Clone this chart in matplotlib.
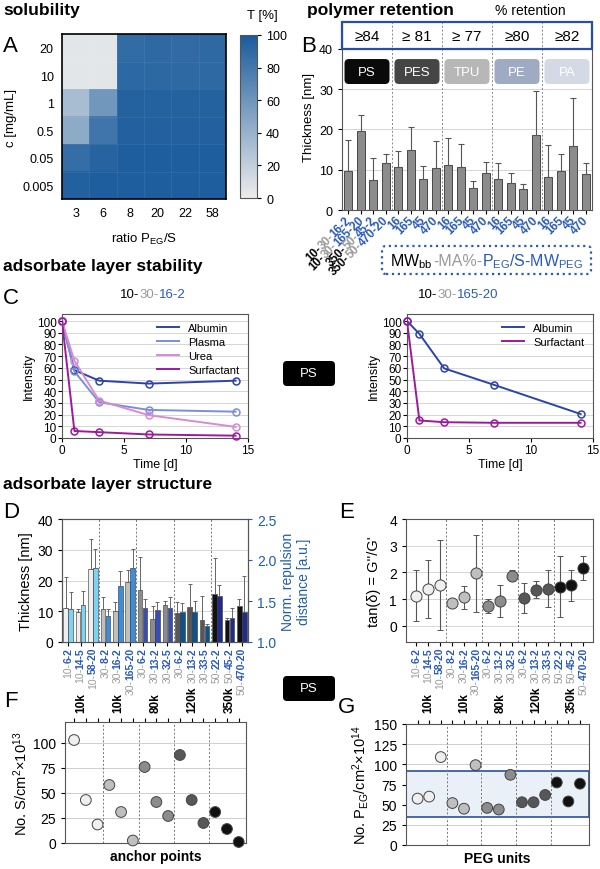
import numpy as np
import matplotlib
matplotlib.use('Agg')
import matplotlib.pyplot as plt
from matplotlib.colors import LinearSegmentedColormap
from matplotlib.patches import FancyBboxPatch, Rectangle
from matplotlib.transforms import IdentityTransform

# ---------------- data ----------------
ratio_labels = ['3', '6', '8', '20', '22', '58']
conc_labels = ['20', '10', '1', '0.5', '0.05', '0.005']
transmission = [[4, 4, 88, 90, 89, 90],
                [4, 4, 91, 91, 90, 90],
                [32, 58, 95, 95, 95, 95],
                [45, 82, 96, 96, 96, 96],
                [87, 94, 97, 97, 97, 97],
                [96, 97, 97, 97, 97, 97]]

polymers = ['PS', 'PES', 'TPU', 'PE', 'PA']
retention = ['≥84', '≥ 81', '≥ 77', '≥80', '≥82']
brush_b = ['10-30-16-2', '10-30-165-20', '350-50-45-2', '350-50-470-20']
peg_b = ['16', '165', '45', '470']
thick_b = [9.8, 19.5, 7.5, 11.6, 10.8, 15.0, 7.7, 10.5, 11.1, 10.6, 5.5, 9.2,
           7.8, 6.6, 5.1, 18.7, 8.3, 9.8, 15.9, 9.0]
err_b = [7.5, 4.0, 5.5, 2.4, 3.8, 5.5, 3.3, 6.7, 6.9, 5.8, 1.8, 2.6,
         3.8, 2.7, 1.3, 10.9, 7.9, 4.2, 11.9, 2.7]

days = [0, 1, 3, 7, 14]
albumin_a = [100, 58, 49, 46.5, 49]
plasma_a = [100, 57, 30.5, 24, 22.5]
urea_a = [100, 66, 32, 19.5, 9.5]
surf_a = [100, 6, 5, 3, 2]
albumin_b = [100, 89, 59.5, 45.5, 20.5]
surf_b = [100, 15, 13.5, 13, 13]

samples = ['10-6-2', '10-14-5', '10-58-20', '30-8-2', '30-16-2', '30-165-20',
           '30-6-2', '30-13-2', '30-32-5', '30-6-2', '30-13-2', '30-33-5',
           '50-22-2', '50-45-2', '50-470-20']
groups = ['10k', '10k', '80k', '120k', '350k']
thick_d = [11.0, 9.8, 23.9, 10.6, 10.0, 19.5, 17.0, 7.5, 12.0, 9.3, 11.5, 7.1, 15.5, 7.3, 11.6]
thick_d_err = [10.0, 0.8, 9.6, 3.9, 3.0, 4.0, 10.7, 4.3, 1.3, 3.6, 7.2, 7.9, 11.8, 0.5, 2.4]
rep_d = [1.40, 1.45, 1.90, 1.32, 1.68, 1.90, 1.42, 1.39, 1.42, 1.36, 1.37, 1.20, 1.56, 1.29, 1.37]
rep_d_err = [0.21, 0.17, 0.23, 0.08, 0.19, 0.24, 0.11, 0.10, 0.13, 0.12, 0.13, 0.02, 0.14, 0.13, 0.43]

tan_e = [1.12, 1.38, 1.52, 0.87, 1.08, 1.98, 0.74, 0.92, 1.88, 1.05, 1.36, 1.40, 1.45, 1.52, 2.17]
tan_lo = [0.17, 0.30, -0.15, 0.80, 0.65, 0.53, 0.48, 0.33, 1.68, 0.50, 1.06, 0.72, 0.32, 0.95, 1.73]
tan_hi = [2.10, 2.45, 3.20, 0.95, 1.50, 3.42, 1.02, 1.53, 2.10, 1.62, 1.68, 2.10, 2.60, 2.10, 2.60]

anchors = [103, 43, 18.5, 58, 31, 2.5, 76, 41, 27, 88, 43, 20, 31, 14, 1]
peg_units = [57.5, 60, 109, 52, 45, 99, 46, 44, 87, 53, 53, 62, 77.5, 54, 76]
peg_band = [35, 92]

# ---------------- style ----------------
plt.rcParams['font.family'] = ['Liberation Sans', 'DejaVu Sans']
plt.rcParams['font.size'] = 8.5
plt.rcParams['mathtext.fontset'] = 'custom'
plt.rcParams['mathtext.rm'] = 'Liberation Sans'
plt.rcParams['mathtext.it'] = 'Liberation Sans:italic'
plt.rcParams['axes.edgecolor'] = '#555555'
plt.rcParams['axes.linewidth'] = 0.8
plt.rcParams['xtick.major.size'] = 3
plt.rcParams['ytick.major.size'] = 3

BLUE = '#2a5ab8'
GRAY_TXT = '#9a9a9a'
grp_gray = ['#efefef', '#bfbfbf', '#8c8c8c', '#575757', '#111111']
grp_blue = ['#80d2f3', '#3b8edb', '#3a4db0', '#0b5290', '#222c88']
grp_of = np.repeat(np.arange(5), 3)

W, H = 600, 870
fig = plt.figure(figsize=(6, 8.7), dpi=100)


def px_axes(x0, y0, x1, y1):
    return fig.add_axes([x0 / W, 1 - y1 / H, (x1 - x0) / W, (y1 - y0) / H])


def txt(x, y, s, **kw):
    fig.text(x / W, 1 - y / H, s, **kw)


def text_w(s, wt, kw):
    r = fig.canvas.get_renderer()
    t = fig.text(0, 0, s, fontweight=wt, **kw)
    w = t.get_window_extent(renderer=r).width
    t.remove()
    return w


def multi_text(x, y, parts, colors, rot=0, align='left', weights=None, **kw):
    # x, y in pixels, y from the top; parts drawn one after another
    if weights is None:
        weights = ['normal'] * len(parts)
    wt0 = weights[-1]
    offsets = [0.0]
    for k in range(1, len(parts)):
        head = parts[k][0]
        offsets.append(text_w(''.join(parts[:k]) + head, wt0, kw) - text_w(head, wt0, kw))
    total = text_w(''.join(parts), wt0, kw)
    shift = {'left': 0, 'center': -total / 2, 'right': -total}[align]
    c, s = np.cos(np.radians(rot)), np.sin(np.radians(rot))
    for p, col, wt, off in zip(parts, colors, weights, offsets):
        pos = shift + off
        fig.text(x + pos * c, H - y + pos * s, p, color=col, fontweight=wt,
                 rotation=rot, rotation_mode='anchor', ha='left', va='baseline',
                 transform=IdentityTransform(), **kw)


def ps_box(x0, y0, x1, y1):
    fig.add_artist(FancyBboxPatch((x0, H - y1), x1 - x0, y1 - y0,
                                  boxstyle='round,pad=0,rounding_size=4',
                                  fc='black', ec='none', transform=IdentityTransform()))
    txt((x0 + x1) / 2, (y0 + y1) / 2, 'PS', color='white', ha='center', va='center', fontsize=9.5)


def brush_parts(name):
    a, b, rest = name.split('-', 2)
    return [a + '-', b + '-', rest]


# ---------------- section titles / letters ----------------
txt(3, 10, 'solubility', fontsize=12.5, fontweight='bold', va='center')
txt(307, 10, 'polymer retention', fontsize=12.5, fontweight='bold', va='center')
txt(530, 11, '% retention', fontsize=10, ha='center', va='center')
txt(3, 266, 'adsorbate layer stability', fontsize=12.5, fontweight='bold', va='center')
txt(3, 485, 'adsorbate layer structure', fontsize=12.5, fontweight='bold', va='center')
for lt, lx, ly in [('A', 3, 46), ('B', 301, 46), ('C', 3, 298), ('D', 3, 512),
                   ('E', 339, 512), ('F', 4, 702), ('G', 338, 708)]:
    txt(lx, ly, lt, fontsize=16, va='center')

# ---------------- A: solubility heatmap ----------------
axA = px_axes(62, 35, 226, 200)
cmap = LinearSegmentedColormap.from_list('t', ['#ececec', '#1a5b9c'])
im = axA.imshow(transmission, cmap=cmap, vmin=0, vmax=100, aspect='auto')
for k in range(1, 6):
    axA.axhline(k - 0.5, color='white', lw=0.4, alpha=0.12)
    axA.axvline(k - 0.5, color='white', lw=0.4, alpha=0.12)
axA.set_xticks(range(6))
axA.set_xticklabels(ratio_labels, fontsize=9)
axA.set_yticks(range(6))
axA.set_yticklabels(conc_labels, fontsize=9)
axA.tick_params(length=0, pad=6)
for sp in axA.spines.values():
    sp.set_color('black')
    sp.set_linewidth(1.2)
axA.set_xlabel('ratio P$_{\\rm EG}$/S', fontsize=9.5, labelpad=8)
axA.set_ylabel('c [mg/mL]', fontsize=9.5, labelpad=4)
cax = px_axes(240, 36, 257, 199)
cb = fig.colorbar(im, cax=cax, ticks=[0, 20, 40, 60, 80, 100])
cb.ax.tick_params(labelsize=9, length=3)
cb.outline.set_linewidth(0.8)
txt(262, 16, 'T [%]', fontsize=9.5, ha='center', va='center')

# ---------------- B: polymer retention ----------------
axB = px_axes(342, 23, 592, 211)
xb = np.arange(20)
axB.bar(xb, thick_b, width=0.62, color='#8c8c8c', edgecolor='#333333', lw=0.6, zorder=3)
axB.errorbar(xb, thick_b, yerr=[np.zeros(20), err_b], fmt='none', ecolor='#555555',
             elinewidth=0.8, capsize=2, capthick=0.8, zorder=3)
axB.set_xlim(-0.5, 19.5)
axB.set_ylim(0, 46.7)
axB.set_yticks([0, 10, 20, 30, 40])
axB.tick_params(labelsize=9)
axB.yaxis.grid(True, color='#d0d0d0', lw=0.6, zorder=0)
axB.set_axisbelow(True)
axB.set_xticks(xb)
axB.set_xticklabels([])
axB.spines['top'].set_visible(False)
axB.set_ylabel('Thickness [nm]', fontsize=9.5, labelpad=3)
for g in range(1, 5):
    axB.axvline(g * 4 - 0.5, color='#888888', ls=(0, (2, 2)), lw=0.7, zorder=1)
axB.add_patch(Rectangle((-0.5, 40), 20, 6.7, fill=False, ec='#2a4ea0', lw=1.6,
                        clip_on=False, zorder=5))
poly_cols = ['#0a0a0a', '#454545', '#b7b7b7', '#9eabc3', '#d3dae6']
for g in range(5):
    axB.text(g * 4 + 1.5, 43.3, retention[g], ha='center', va='center', fontsize=11)
    axB.add_patch(FancyBboxPatch((g * 4 - 0.3, 31.3), 3.6, 6.2,
                                 boxstyle='round,pad=0,rounding_size=0.35',
                                 mutation_aspect=3.1, fc=poly_cols[g], ec='none', zorder=4))
    axB.text(g * 4 + 1.5, 34.4, polymers[g], ha='center', va='center', color='white',
             fontsize=9.5, zorder=5)
xb_px = axB.transData.transform(np.c_[xb, np.zeros(20)])[:, 0]
for i in range(20):
    if i < 4:
        multi_text(xb_px[i] + 3, 221, brush_parts(brush_b[i]), ['black', GRAY_TXT, BLUE],
                   rot=45, align='right', weights=['bold'] * 3, fontsize=8.5)
    else:
        multi_text(xb_px[i] + 3, 221, [peg_b[i % 4]], [BLUE], rot=45, align='right',
                   weights=['bold'], fontsize=8.5)
fig.add_artist(FancyBboxPatch((382, H - 275), 209, 28, boxstyle='round,pad=0,rounding_size=4',
                              fill=False, ec=BLUE, ls=':', lw=1.6, transform=IdentityTransform()))
multi_text(486, 266.5, ['MW$_{\\rm bb}$', '-MA%-', 'P$_{\\rm EG}$/S-MW$_{\\rm PEG}$'],
           ['black', GRAY_TXT, BLUE], align='center', fontsize=11.5)

# ---------------- C: stability ----------------
multi_text(153, 298, brush_parts('10-30-16-2'), ['black', GRAY_TXT, BLUE], align='center', fontsize=9.5)
multi_text(458, 298, brush_parts('10-30-165-20'), ['black', GRAY_TXT, BLUE], align='center', fontsize=9.5)

c_alb, c_pla, c_urea, c_surf = '#2c44a8', '#7b8fd8', '#d78bd2', '#9b1b9b'
for ax_pos, series in [((62, 315, 248, 439), [('Albumin', albumin_a, c_alb), ('Plasma', plasma_a, c_pla),
                                              ('Urea', urea_a, c_urea), ('Surfactant', surf_a, c_surf)]),
                       ((407, 315, 593, 439), [('Albumin', albumin_b, c_alb), ('Surfactant', surf_b, c_surf)])]:
    ax = px_axes(*ax_pos)
    for name, vals, col in series:
        ax.plot(days, vals, '-', color=col, lw=1.4, label=name, zorder=3)
        ax.plot(days, vals, 'o', mfc='none', mec=col, ms=5, mew=1.1, zorder=4, clip_on=False)
    ax.set_xlim(0, 15)
    ax.set_ylim(0, 106)
    ax.set_yticks(range(0, 101, 10))
    ax.set_xticks([0, 5, 10, 15])
    ax.yaxis.grid(True, color='#d0d0d0', lw=0.6)
    ax.set_axisbelow(True)
    ax.tick_params(labelsize=8.5, pad=1)
    ax.set_ylabel('Intensity', fontsize=9, labelpad=1)
    ax.set_xlabel('Time [d]', fontsize=9, labelpad=2)
    ax.legend(loc='upper right', frameon=False, fontsize=8, handlelength=2.0,
              borderaxespad=0.4, labelspacing=0.35)
ps_box(283, 362, 335, 387)

# ---------------- D: thickness + repulsion ----------------
xs = np.arange(15)
axD = px_axes(62, 520, 248, 643)
axD.bar(xs - 0.2, thick_d, width=0.38, color=[grp_gray[g] for g in grp_of],
        edgecolor='#555555', lw=0.5, zorder=3)
axD.errorbar(xs - 0.2, thick_d, yerr=[np.zeros(15), thick_d_err], fmt='none',
             ecolor='#666666', elinewidth=0.7, capsize=1.5, capthick=0.7, zorder=3)
axD.set_xlim(-0.5, 14.5)
axD.set_ylim(0, 40)
axD.set_yticks([0, 10, 20, 30, 40])
axD.yaxis.grid(True, color='#d0d0d0', lw=0.6, zorder=0)
axD.set_axisbelow(True)
axD.set_xticks(xs)
axD.set_xticklabels([])
axD.tick_params(labelsize=10)
axD.set_ylabel('Thickness [nm]', fontsize=10.5, labelpad=3)
for b in [2.5, 5.5, 8.5, 11.5]:
    axD.axvline(b, color='#777777', ls=(0, (2, 2)), lw=0.7, zorder=1)
axD2 = axD.twinx()
axD2.bar(xs + 0.2, np.array(rep_d) - 1.0, bottom=1.0, width=0.38,
         color=[grp_blue[g] for g in grp_of], edgecolor='#333333', lw=0.4, zorder=3)
axD2.errorbar(xs + 0.2, rep_d, yerr=[np.zeros(15), rep_d_err], fmt='none',
              ecolor='#666666', elinewidth=0.7, capsize=1.5, capthick=0.7, zorder=3)
axD2.set_ylim(1.0, 2.5)
axD2.set_yticks([1.0, 1.5, 2.0, 2.5])
axD2.set_yticklabels(['1.0', '1.5', '2.0', '2.5'])
axD2.tick_params(labelsize=10, colors='#1f5fa8')
axD2.set_ylabel('Norm. repulsion\ndistance [a.u.]', fontsize=10, color='#1f5fa8', labelpad=3)

# ---------------- E: tan delta ----------------
axE = px_axes(406, 520, 593, 643)
for i in xs:
    axE.errorbar(i, tan_e[i], yerr=[[tan_e[i] - tan_lo[i]], [tan_hi[i] - tan_e[i]]], fmt='o',
                 ms=8, mfc=grp_gray[grp_of[i]], mec='#444444', mew=0.7, ecolor='#555555',
                 elinewidth=0.8, capsize=2, capthick=0.8, zorder=3)
axE.set_xlim(-0.85, 14.8)
axE.set_ylim(-0.6, 4)
axE.set_yticks([0, 1, 2, 3, 4])
axE.yaxis.grid(True, color='#d0d0d0', lw=0.6)
axE.set_axisbelow(True)
axE.set_xticks(xs)
axE.set_xticklabels([])
axE.tick_params(labelsize=10)
axE.set_ylabel("tan(δ) = G''/G'", fontsize=10.5, labelpad=6)
for b in [2.5, 5.5, 8.5, 11.5]:
    axE.axvline(b, color='#777777', ls=(0, (2, 2)), lw=0.7, zorder=1)

# sample labels between rows
for ax in [axD, axE]:
    xp = ax.transData.transform(np.c_[xs, np.zeros(15)])[:, 0]
    for i in xs:
        a, rest = samples[i].split('-', 1)
        multi_text(xp[i] + 3, 648, [a + '-', rest], [GRAY_TXT, BLUE], rot=90, align='right',
                   weights=['normal', 'bold'], fontsize=7.5)
    for g in range(5):
        multi_text(xp[g * 3 + 1] + 3.5, 713, [groups[g]], ['black'], rot=90, align='left',
                   weights=['bold'], fontsize=8.5)
ps_box(283, 677, 335, 702)

# ---------------- F / G: scatter ----------------
axF = px_axes(65, 723, 246, 844)
axF.scatter(xs, anchors, s=60, c=[grp_gray[g] for g in grp_of], edgecolors='#444444',
            linewidths=0.7, zorder=3, clip_on=False)
axF.set_xlim(-0.77, 14.62)
axF.set_ylim(0, 121)
axF.set_yticks([0, 25, 50, 75, 100])
axF.set_xlabel('anchor points', fontsize=10, fontweight='bold', labelpad=4)
axF.set_ylabel('No. S/cm$^2$×10$^{13}$', fontsize=10.5, labelpad=2)

axG = px_axes(406, 725, 589, 846)
axG.axhspan(peg_band[0], peg_band[1], fc='#e9f0f8', ec='#2a50a0', lw=1.2, zorder=1)
axG.scatter(xs, peg_units, s=60, c=[grp_gray[g] for g in grp_of], edgecolors='#444444',
            linewidths=0.7, zorder=3, clip_on=False)
axG.set_xlim(-1.0, 14.78)
axG.set_ylim(0, 150)
axG.set_yticks([0, 25, 50, 75, 100, 125, 150])
axG.set_xlabel('PEG units', fontsize=10, fontweight='bold', labelpad=4)
axG.set_ylabel('No. P$_{\\rm EG}$/cm$^2$×10$^{14}$', fontsize=10.5, labelpad=2)

for ax in [axF, axG]:
    ax.yaxis.grid(True, color='#c8c8c8', lw=0.6, zorder=0)
    ax.set_axisbelow(True)
    ax.xaxis.tick_top()
    ax.set_xticks(xs)
    ax.set_xticklabels([])
    ax.tick_params(labelsize=10)
    for b in [2.5, 5.5, 8.5, 11.5]:
        ax.axvline(b, color='#777777', ls=(0, (2, 2)), lw=0.7, zorder=2)

fig.savefig('out.png', dpi=100)
